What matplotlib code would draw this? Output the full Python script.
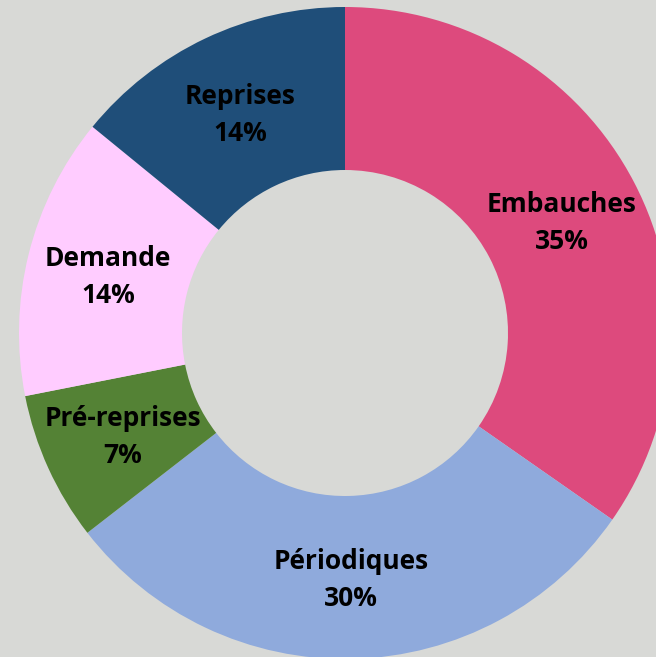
import matplotlib
matplotlib.use("Agg")
import matplotlib.pyplot as plt
import numpy as np

# Daten (Anteile in %)
labels = ["Embauches", "Périodiques", "Pré-reprises", "Demande", "Reprises"]
values = [34.7, 29.8, 7.4, 14.0, 14.1]
colors = ["#DD4A7D", "#8FAADC", "#548235", "#FFCCFF", "#1F4E79"]

bg = "#D8D9D6"

fig = plt.figure(figsize=(6.56, 6.57), dpi=100, facecolor=bg)
ax = fig.add_axes([0, 0, 1, 1])
ax.set_facecolor(bg)

R = 326
cx, cy = 345, 324
wedges, _ = ax.pie(values, colors=colors, startangle=90, counterclock=False,
                   radius=R, center=(cx, cy),
                   wedgeprops=dict(width=R / 2, linewidth=0))

# Beschriftungen in der Ringmitte
total = sum(values)
start = 90.0
for lab, v in zip(labels, values):
    mid = np.deg2rad(start - 360 * v / total / 2)
    start -= 360 * v / total
    x = cx + 0.75 * R * np.cos(mid)
    y = cy + 0.75 * R * np.sin(mid) - 3
    ax.text(x, y, f"{lab}\n{round(v)}%", ha="center", va="center",
            fontsize=19, fontweight="bold", family="Open Sans",
            color="black", linespacing=1.48)

ax.set_xlim(0, 656)
ax.set_ylim(0, 657)
ax.set_aspect("equal")
ax.axis("off")

plt.savefig("out.png", dpi=100, facecolor=bg)
